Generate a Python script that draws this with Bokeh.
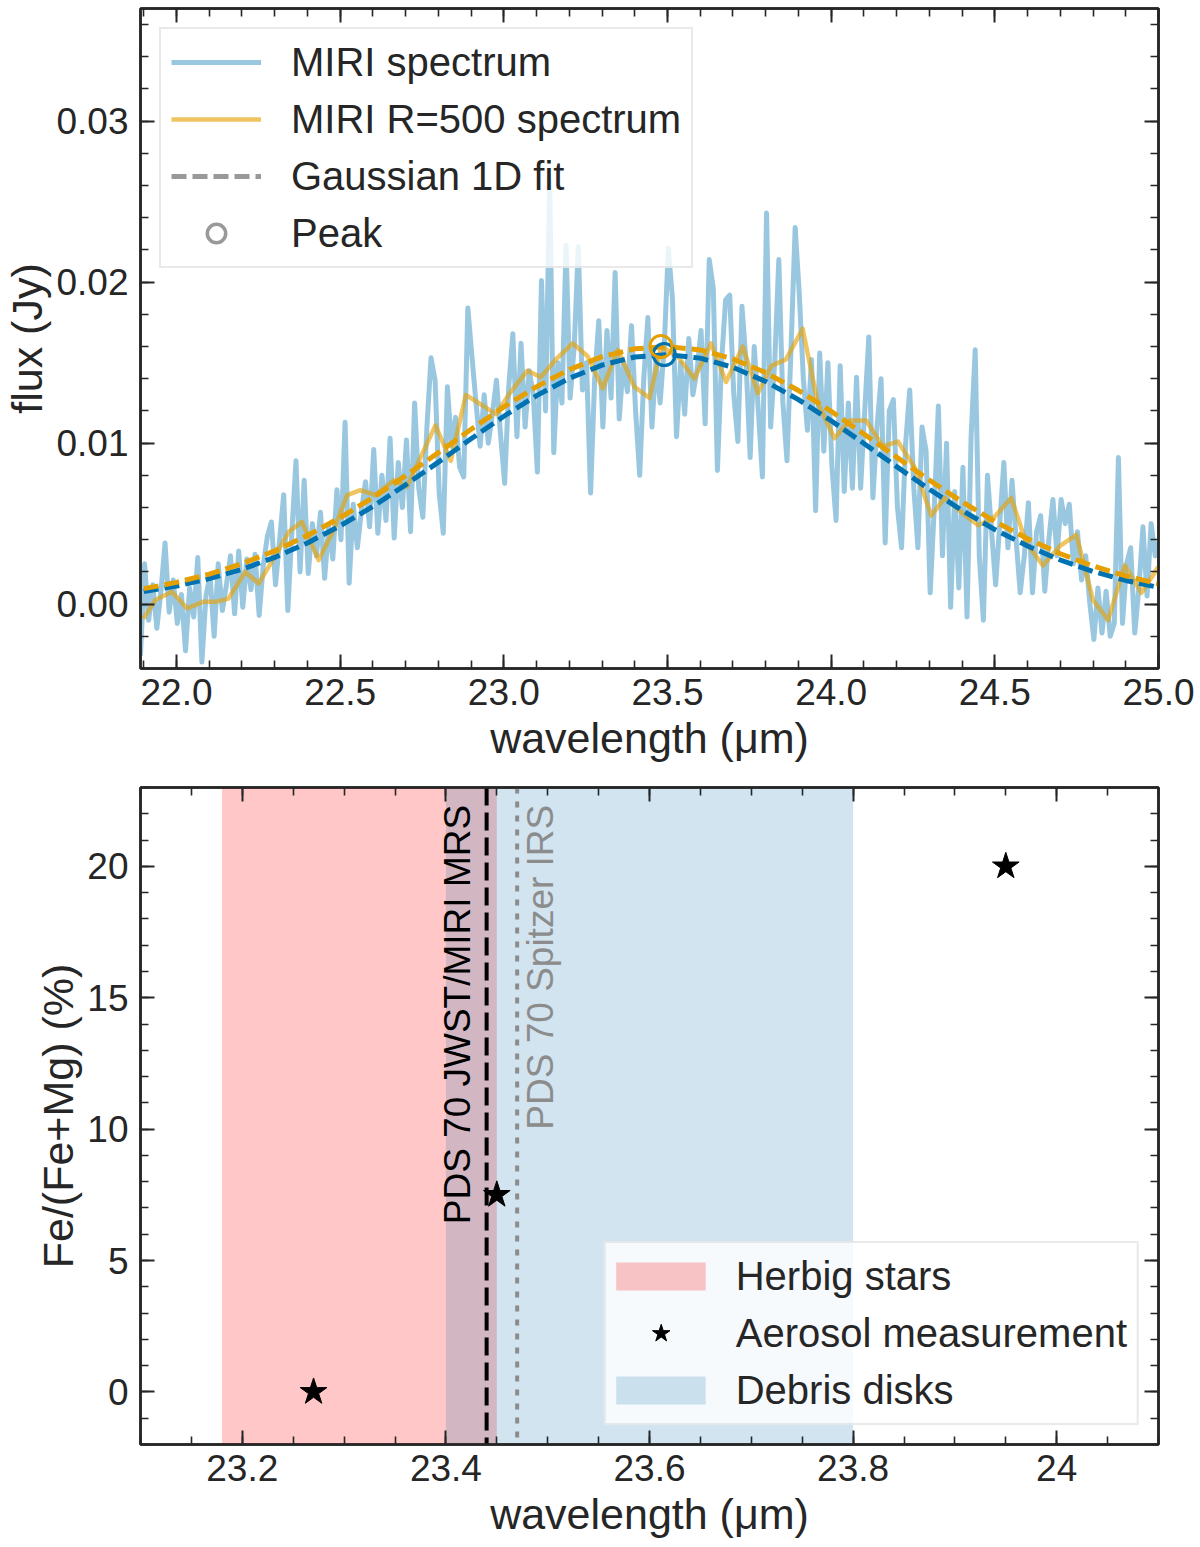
import numpy as np
from bokeh.plotting import figure
from bokeh.layouts import column
from bokeh.models import (LinearAxis, SingleIntervalTicker, FixedTicker,
                          NumeralTickFormatter, CustomJSTickFormatter, Range1d,
                          BoxAnnotation, Span, Legend, LegendItem, Label)
from bokeh.embed import file_html
from bokeh.resources import INLINE

FONT = "Liberation Sans"
INK = "#262626"

# ---------------- top panel: spectrum ----------------
# MIRI MRS spectrum on a regular 0.0125 um grid
miri_start, miri_step = 21.89, 0.0125
miri_flux = [
    -0.0032, 0.0025, -0.0010, 0.0012, -0.0015, 0.0008, 0.0038, -0.0005,
    0.0015, -0.0012, 0.0006, -0.0029, 0.0010, -0.0008, 0.0029, -0.0036,
    0.0005, 0.0018, -0.0020, 0.0025, -0.0004, 0.0012, 0.0030, -0.0006,
    0.0033, -0.0002, 0.0028, 0.0009, 0.0031, -0.0007, 0.0024, 0.0042,
    0.0051, 0.0012, 0.0040, 0.0068, -0.0004, 0.0045, 0.0089, 0.0020,
    0.0077, 0.0019, 0.0050, 0.0030, 0.0057, 0.0016, 0.0048, 0.0028,
    0.0071, 0.0040, 0.0113, 0.0013, 0.0062, 0.0035, 0.0058, 0.0076,
    0.0048, 0.0096, 0.0044, 0.0080, 0.0052, 0.0103, 0.0041, 0.0088,
    0.0060, 0.0102, 0.0045, 0.0125, 0.0072, 0.0054, 0.0110, 0.0153,
    0.0139, 0.0069, 0.0044, 0.0135, 0.0098, 0.0116, 0.0085, 0.0079,
    0.0184, 0.0154, 0.0125, 0.0098, 0.0130, 0.0100, 0.0118, 0.0139,
    0.0105, 0.0075, 0.0135, 0.0168, 0.0104, 0.0162, 0.0110, 0.0145,
    0.0130, 0.0082, 0.0201, 0.0120, 0.0263, 0.0094, 0.0150, 0.0125,
    0.0223, 0.0128, 0.0160, 0.0222, 0.0133, 0.0150, 0.0069, 0.0140,
    0.0176, 0.0110, 0.0170, 0.0128, 0.0206, 0.0115, 0.0150, 0.0132,
    0.0173, 0.0120, 0.0080, 0.0140, 0.0178, 0.0110, 0.0152, 0.0125,
    0.0160, 0.0221, 0.0190, 0.0104, 0.0150, 0.0118, 0.0165, 0.0130,
    0.0145, 0.0170, 0.0112, 0.0214, 0.0196, 0.0083, 0.0150, 0.0189,
    0.0192, 0.0130, 0.0101, 0.0185, 0.0150, 0.0091, 0.0160, 0.0120,
    0.0079, 0.0243, 0.0110, 0.0150, 0.0214, 0.0125, 0.0089, 0.0160,
    0.0234, 0.0193, 0.0140, 0.0108, 0.0152, 0.0058, 0.0156, 0.0095,
    0.0150, 0.0085, 0.0052, 0.0148, 0.0070, 0.0125, 0.0072, 0.0141,
    0.0072, 0.0120, 0.0166, 0.0066, 0.0110, 0.0140, 0.0038, 0.0120,
    0.0127, 0.0060, 0.0035, 0.0100, 0.0133, 0.0072, 0.0035, 0.0110,
    0.0095, 0.0007, 0.0060, 0.0123, 0.0030, 0.0100, -0.0002, 0.0070,
    0.0010, 0.0085, -0.0008, 0.0104, 0.0158, 0.0030, -0.0010, 0.0080,
    0.0045, 0.0012, 0.0050, 0.0088, 0.0035, 0.0077, 0.0040, 0.0007,
    0.0030, 0.0063, 0.0007, 0.0045, 0.0055, 0.0008, 0.0040, 0.0065,
    0.0030, 0.0065, 0.0050, 0.0062, 0.0025, 0.0045, 0.0015, 0.0030,
    0.0001, -0.0022, 0.0010, -0.0018, 0.0008, -0.0020, -0.0012, 0.0091,
    -0.0012, 0.0025, 0.0035, -0.0018, 0.0010, 0.0048, 0.0005, 0.0050, 0.0030, 0.0040,
]
miri_wave = miri_start + miri_step * np.arange(len(miri_flux))

# degraded R=500 spectrum
r500_wave = [21.899, 21.935, 21.986, 22.032, 22.083, 22.123, 22.159, 22.210,
             22.251, 22.297, 22.343, 22.383, 22.434, 22.480, 22.521, 22.562,
             22.608, 22.664, 22.704, 22.791, 22.838, 22.884, 22.976, 23.018,
             23.072, 23.113, 23.159, 23.210, 23.256, 23.302, 23.348, 23.399,
             23.445, 23.481, 23.531, 23.582, 23.633, 23.679, 23.730, 23.776,
             23.817, 23.862, 23.913, 23.959, 24.010, 24.056, 24.107, 24.158,
             24.204, 24.255, 24.306, 24.347, 24.398, 24.449, 24.494, 24.550,
             24.596, 24.647, 24.698, 24.749, 24.800, 24.846, 24.897, 24.948,
             24.999]
r500_flux = [-0.0009, 0.00025, 0.00077, -0.00026, 0.00015, 0.00015, 0.00035, 0.0020,
             0.00128, 0.00284, 0.00449, 0.00511, 0.00273, 0.0046, 0.00677, 0.00708,
             0.00677, 0.0077, 0.00729, 0.0111, 0.0089, 0.0130, 0.0118, 0.0131,
             0.0145, 0.0141, 0.0152, 0.0162, 0.0154, 0.0134, 0.0158, 0.0135,
             0.0128, 0.0160, 0.0154, 0.0140, 0.0162, 0.0138, 0.0160, 0.0131,
             0.0148, 0.0152, 0.0171, 0.0125, 0.0103, 0.0114, 0.0114, 0.0098,
             0.0101, 0.0085, 0.0055, 0.0066, 0.0057, 0.0049, 0.0053, 0.0066,
             0.0038, 0.0024, 0.0036, 0.0043, 0.00025, -0.0010, 0.0024, 0.0007,
             0.0023]

# Gaussian 1D fits, read at 0.1 um steps
fit_wave = [21.9, 22.0, 22.1, 22.2, 22.3, 22.4, 22.5, 22.6, 22.7, 22.8, 22.9,
            23.0, 23.1, 23.2, 23.3, 23.4, 23.5, 23.6, 23.7, 23.8, 23.9, 24.0,
            24.1, 24.2, 24.3, 24.4, 24.5, 24.6, 24.7, 24.8, 24.9, 25.0]
fit_miri = [0.00078, 0.00112, 0.00158, 0.00216, 0.00290, 0.00380, 0.00486, 0.00607,
            0.00741, 0.00882, 0.01027, 0.01167, 0.01295, 0.01403, 0.01485, 0.01535,
            0.01550, 0.01528, 0.01471, 0.01383, 0.01270, 0.01139, 0.00998, 0.00854,
            0.00713, 0.00582, 0.00463, 0.00361, 0.00274, 0.00203, 0.00147, 0.00104]
fit_r500 = [0.00096, 0.00135, 0.00186, 0.00251, 0.00331, 0.00426, 0.00537, 0.00662,
            0.00798, 0.00941, 0.01086, 0.01225, 0.01351, 0.01457, 0.01537, 0.01586,
            0.01600, 0.01579, 0.01523, 0.01438, 0.01327, 0.01198, 0.01057, 0.00913,
            0.00770, 0.00636, 0.00514, 0.00406, 0.00313, 0.00237, 0.00175, 0.00126]

peak_wave = [23.49, 23.48]
peak_flux = [0.0155, 0.0160]

# ---------------- bottom panel: Fe content ----------------
herbig_range = [23.18, 23.45]
debris_range = [23.40, 23.80]
jwst_wave = 23.44
spitzer_wave = 23.47
aerosol_wave = [23.27, 23.45, 23.95]
aerosol_fe = [0.0, 7.5, 20.0]

NAN = [np.nan]  # legend-only proxies


def style_axis(ax, ticker, fmt=None, labels=True, vertical=False):
    ax.ticker = ticker
    if fmt is not None:
        ax.formatter = fmt
    ax.axis_line_color = INK
    ax.axis_line_width = 2.5
    ax.major_tick_line_color = INK
    ax.major_tick_line_width = 2
    ax.minor_tick_line_color = INK
    ax.minor_tick_line_width = 1.6
    ax.major_tick_in = 14
    ax.major_tick_out = 0
    ax.minor_tick_in = 8
    ax.minor_tick_out = 0
    ax.major_label_text_font = FONT
    ax.major_label_text_color = INK
    ax.major_label_text_font_size = "37px" if labels else "0px"
    if labels:
        ax.major_label_standoff = 12 if vertical else 10
    else:
        ax.major_label_standoff = 0
    ax.axis_label_text_font = FONT
    ax.axis_label_text_font_size = "43px"
    ax.axis_label_text_font_style = "normal"
    ax.axis_label_text_color = INK
    ax.axis_label_standoff = 2 if vertical else 6


def dress(p, xticker, yticker, xfmt=None, yfmt=None):
    p.grid.visible = False
    p.outline_line_color = INK
    p.outline_line_width = 2.5
    style_axis(p.xaxis[0], xticker, xfmt)
    style_axis(p.yaxis[0], yticker, yfmt, vertical=True)
    # mirrored ticks on top and right
    top = LinearAxis()
    style_axis(top, xticker, labels=False)
    p.add_layout(top, "above")
    right = LinearAxis()
    style_axis(right, yticker, labels=False)
    p.add_layout(right, "right")


def make_legend(items, location):
    return Legend(items=items, location=location, margin=19, padding=10, spacing=11,
                  glyph_width=90, glyph_height=46, label_height=46, label_standoff=30,
                  label_text_font=FONT, label_text_font_size="40px",
                  label_text_color=INK, border_line_color="#d4d4d4",
                  border_line_width=2, background_fill_alpha=0.8)


# ---- top figure ----
p1 = figure(width=1200, height=780, x_range=Range1d(21.89, 25.0),
            y_range=Range1d(-0.004, 0.037), output_backend="svg",
            toolbar_location=None, min_border_left=140, min_border_right=42,
            min_border_top=8, min_border_bottom=112,
            x_axis_label="wavelength (μm)", y_axis_label="flux (Jy)")
dress(p1, SingleIntervalTicker(interval=0.5, num_minor_ticks=5),
      SingleIntervalTicker(interval=0.01, num_minor_ticks=5),
      NumeralTickFormatter(format="0.0"), NumeralTickFormatter(format="0.00"))

r_miri = p1.line(miri_wave, miri_flux, line_color="#0072B2", line_alpha=0.4,
                 line_width=5, line_join="round")
r_r500 = p1.line(r500_wave, r500_flux, line_color="#E69F00", line_alpha=0.62,
                 line_width=4.5, line_join="round")
p1.line(fit_wave, fit_miri, line_color="#0072B2", line_width=5, line_dash="15 6")
p1.line(fit_wave, fit_r500, line_color="#E69F00", line_width=5, line_dash="15 6")
p1.scatter([peak_wave[0]], [peak_flux[0]], marker="circle", size=22,
           fill_color=None, line_color="#0072B2", line_width=3)
p1.scatter([peak_wave[1]], [peak_flux[1]], marker="circle", size=22,
           fill_color=None, line_color="#E69F00", line_width=3)

fit_proxy = p1.line(NAN, NAN, line_color="#999999", line_width=5, line_dash="15 6")
peak_proxy = p1.scatter(NAN, NAN, marker="circle", size=22, fill_color=None,
                        line_color="#999999", line_width=3.5)

p1.add_layout(make_legend([
    LegendItem(label="MIRI spectrum", renderers=[r_miri]),
    LegendItem(label="MIRI R=500 spectrum", renderers=[r_r500]),
    LegendItem(label="Gaussian 1D fit", renderers=[fit_proxy]),
    LegendItem(label="Peak", renderers=[peak_proxy]),
], "top_left"))

# ---- bottom figure ----
p2 = figure(width=1200, height=766, x_range=Range1d(23.1, 24.1),
            y_range=Range1d(-2, 23), output_backend="svg",
            toolbar_location=None, min_border_left=140, min_border_right=42,
            min_border_top=7, min_border_bottom=102,
            x_axis_label="wavelength (μm)", y_axis_label="Fe/(Fe+Mg) (%)")
x2_ticker = FixedTicker(ticks=[23.2, 23.4, 23.6, 23.8, 24.0],
                        minor_ticks=np.round(np.arange(23.10, 24.11, 0.05), 2).tolist())
dress(p2, x2_ticker, SingleIntervalTicker(interval=5, num_minor_ticks=5),
      CustomJSTickFormatter(code="return Math.abs(tick - 24) < 1e-6 ? '24' : tick.toFixed(1);"))

p2.add_layout(BoxAnnotation(left=herbig_range[0], right=herbig_range[1],
                            fill_color="#ff0000", fill_alpha=0.22,
                            line_alpha=0, level="underlay"))
p2.add_layout(BoxAnnotation(left=debris_range[0], right=debris_range[1],
                            fill_color="#1f77b4", fill_alpha=0.2,
                            line_alpha=0, level="underlay"))
p2.add_layout(Span(location=jwst_wave, dimension="height", line_color="black",
                   line_width=4, line_dash="18 7", level="underlay"))
p2.add_layout(Span(location=spitzer_wave, dimension="height", line_color="#8c8c8c",
                   line_width=4, line_dash="6 8", level="underlay"))

p2.add_layout(Label(x=23.411, y=6.38, text="PDS 70 JWST/MIRI MRS", angle=np.pi / 2,
                    text_font=FONT, text_font_size="37px", text_color="black",
                    text_align="left", text_baseline="alphabetic"))
p2.add_layout(Label(x=23.493, y=9.98, text="PDS 70 Spitzer IRS", angle=np.pi / 2,
                    text_font=FONT, text_font_size="37px", text_color="#8c8c8c",
                    text_align="left", text_baseline="alphabetic"))

r_star = p2.scatter(aerosol_wave, aerosol_fe, marker="star", size=28, color="black")

herbig_proxy = p2.line(NAN, NAN, line_color="#ff0000", line_alpha=0.22, line_width=28)
debris_proxy = p2.line(NAN, NAN, line_color="#1f77b4", line_alpha=0.2, line_width=28)

p2.add_layout(make_legend([
    LegendItem(label="Herbig stars", renderers=[herbig_proxy]),
    LegendItem(label="Aerosol measurement", renderers=[r_star]),
    LegendItem(label="Debris disks", renderers=[debris_proxy]),
], "bottom_right"))

layout = column(p1, p2)
open("out.html", "w").write(file_html(layout, INLINE))
